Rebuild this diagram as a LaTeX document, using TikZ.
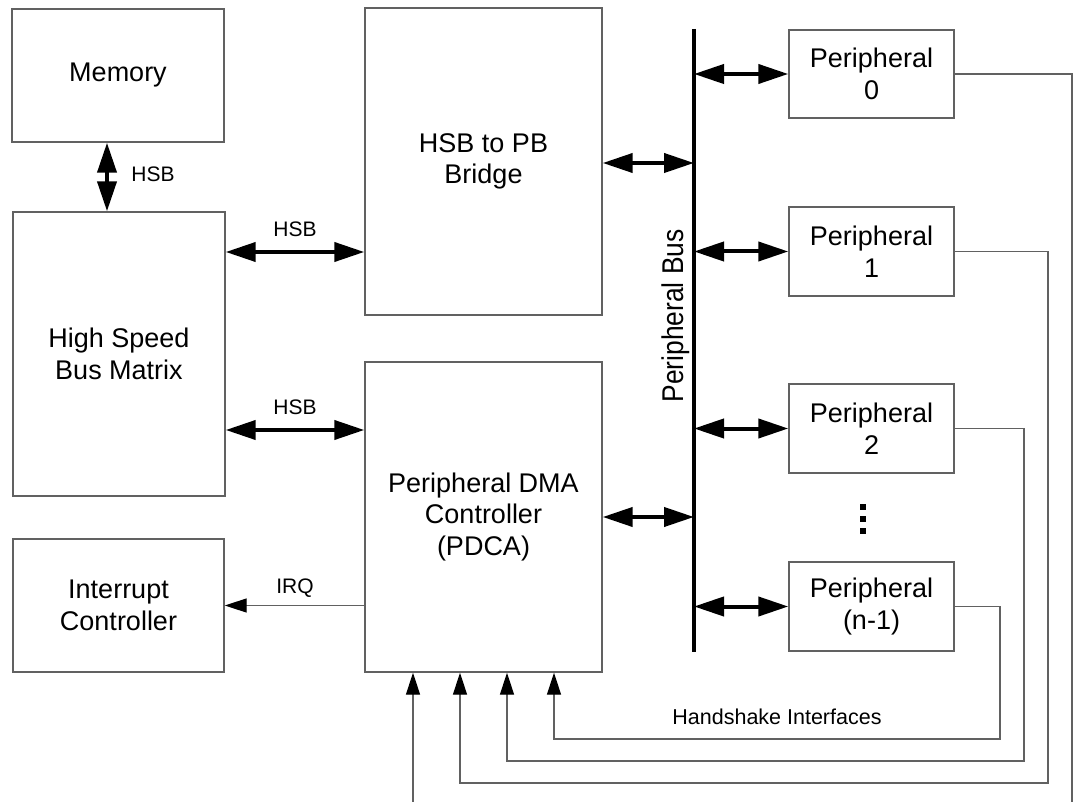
\documentclass[tikz,border=0pt]{standalone}
\usepackage{fontspec}
\usepackage{graphicx}
\setmainfont{Liberation Sans}
\usetikzlibrary{arrows.meta}
\begin{document}
\begin{tikzpicture}[x=1pt,y=-1pt,
  box/.style={draw=black!62, line width=1.4pt, inner sep=0pt, align=center,
              font=\fontsize{27}{31.5}\selectfont},
  thickarr/.style={line width=4pt,
     {Triangle[length=30pt,width=19pt]}-{Triangle[length=30pt,width=19pt]}},
  wire/.style={draw=black!62, line width=1.3pt},
  thinarr/.style={wire, -{Triangle[length=22pt,width=14pt,color=black]}},
  lbl/.style={inner sep=0pt, font=\fontsize{21}{24}\selectfont}
]
\useasboundingbox[fill=white] (0,0) rectangle (1073,802);

% boxes
\node[box, minimum width=212pt, minimum height=133pt] (mem) at (118,75.5) {Memory};
\node[box, minimum width=212pt, minimum height=284pt] (mat) at (119,354) {High Speed\\Bus Matrix};
\node[box, minimum width=211pt, minimum height=133pt] (intc) at (118.5,605.5) {Interrupt\\Controller};
\node[box, minimum width=237pt, minimum height=307pt] (bridge) at (483.5,161.5) {HSB to PB\\Bridge};
\node[box, minimum width=237pt, minimum height=310pt] (pdca) at (483.5,517) {Peripheral DMA\\Controller\\(PDCA)};
\node[box, minimum width=165pt, minimum height=88pt] (p0) at (871.5,74) {Peripheral\\0};
\node[box, minimum width=165pt, minimum height=89pt] (p1) at (871.5,251.5) {Peripheral\\1};
\node[box, minimum width=165pt, minimum height=89pt] (p2) at (871.5,428.5) {Peripheral\\2};
\node[box, minimum width=165pt, minimum height=89pt] (p3) at (871.5,606.5) {Peripheral\\(n-1)};

% peripheral bus
\coordinate (bustop) at (694,29);
\coordinate (busbot) at (694,652);
\draw[line width=4pt] (bustop) -- (busbot);
\node[rotate=90, anchor=base, inner sep=0pt, font=\fontsize{30}{31}\selectfont] (pblabel) at (683,316) {\scalebox{0.88}[1]{Peripheral Bus}};

% thick bus arrows
\coordinate (hx) at (107,0);
\draw[thickarr] (mem.south -| hx) -- (mat.north -| hx);
\node[lbl] (l0) at (153,174) {HSB};

\coordinate (h1) at (0,252);
\coordinate (h2) at (0,430);
\draw[thickarr] (mat.east |- h1) -- (bridge.west |- h1);
\node[lbl] (l1) at (295,229) {HSB};
\draw[thickarr] (mat.east |- h2) -- (pdca.west |- h2);
\node[lbl] (l2) at (295,407) {HSB};

\coordinate (bb) at (0,163);
\draw[thickarr] (bridge.east |- bb) -- (bustop |- bb);
\draw[thickarr] (pdca.east) -- (bustop |- pdca.east);
\draw[thickarr] (bustop |- p0.west) -- (p0.west);
\draw[thickarr] (bustop |- p1.west) -- (p1.west);
\draw[thickarr] (bustop |- p2.west) -- (p2.west);
\draw[thickarr] (bustop |- p3.west) -- (p3.west);

% dots
\foreach \yy in {507,519,531}
  \fill (860,\yy-3) rectangle (866,\yy+3);

% IRQ
\draw[thinarr] (pdca.west |- intc.east) -- (intc.east);
\node[lbl] (irq) at (295,588) {IRQ};

% handshake wiring
\coordinate (a0) at (413,802);
\coordinate (a1) at (460,0);
\coordinate (a2) at (507,0);
\coordinate (a3) at (554,0);
\coordinate (c0) at (1072,802);
\coordinate (c1) at (1048,783);
\coordinate (c2) at (1024,761);
\coordinate (c3) at (1000,739);
\draw[wire] (p0.east) -| (c0);
\draw[thinarr] (a0) -- (a0 |- pdca.south);
\draw[thinarr] (p1.east) -| (c1) -| (a1 |- pdca.south);
\draw[thinarr] (p2.east) -| (c2) -| (a2 |- pdca.south);
\draw[thinarr] (p3.east) -| (c3) -| (a3 |- pdca.south);
\node[lbl, font=\fontsize{21.5}{24}\selectfont] (hs) at (777,717) {Handshake Interfaces};
\end{tikzpicture}
\end{document}
